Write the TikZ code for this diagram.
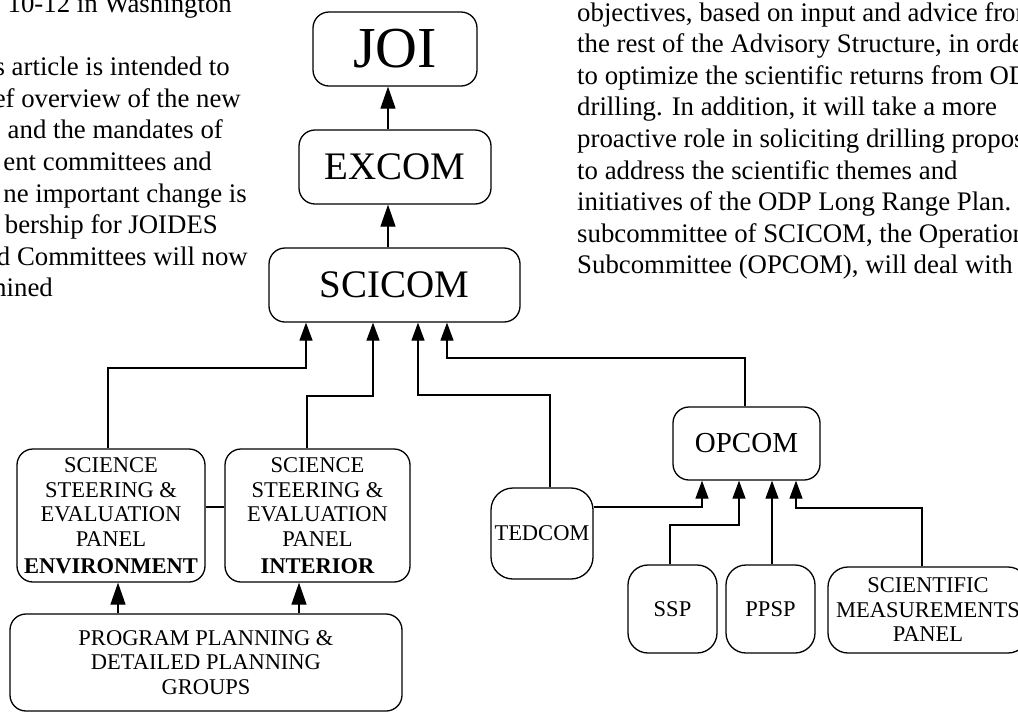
\documentclass[tikz,border=0pt]{standalone}
\usepackage{fontspec}
\setmainfont{Liberation Serif}
\usetikzlibrary{arrows.meta}
\tikzset{
  box/.style={draw, line width=1.3pt, rounded corners=16pt, inner sep=0pt, align=center,
    font=\fontsize{22.5}{24.5}\selectfont},
  conn/.style={line width=1.3pt},
  arr/.style={line width=1.3pt, -{Triangle[length=18pt,width=13pt]}},
  arrbig/.style={line width=1.3pt, -{Triangle[length=22pt,width=15pt]}},
  bodytext/.style={inner sep=0pt, font=\fontsize{26.8}{31.6}\selectfont},
}
\begin{document}
\begin{tikzpicture}[x=1pt,y=-1pt]
\useasboundingbox (0,0) rectangle (1018,713);
\fill[white] (0,0) rectangle (1018,713);
\clip (0,0) rectangle (1018,713);

% left column of body text
\node[bodytext, anchor=base east] (l0) at (232,12) {10-12 in Washington};
\node[bodytext, anchor=base east] (l2) at (230,75) {s article is intended to};
\node[bodytext, anchor=base east] (l3) at (241,107) {ef overview of the new};
\node[bodytext, anchor=base east] (l4) at (223,138) {and the mandates of};
\node[bodytext, anchor=base east] (l5) at (212,170) {ent committees and};
\node[bodytext, anchor=base east] (l6) at (247,202) {ne important change is};
\node[bodytext, anchor=base east] (l7) at (218,233) {bership for JOIDES};
\node[bodytext, anchor=base east] (l8) at (248,265) {d Committees will now};
\node[bodytext, anchor=base east] (l9) at (53,296) {mined};

% right column of body text
\node[bodytext, anchor=base west] (r0) at (577,21) {objectives, based on input and advice from};
\node[bodytext, anchor=base west] (r1) at (577,52.6) {the rest of the Advisory Structure, in order};
\node[bodytext, anchor=base west] (r2) at (577,84.2) {to optimize the scientific returns from ODP};
\node[bodytext, anchor=base west] (r3) at (577,115.8) {drilling. In addition, it will take a more};
\node[bodytext, anchor=base west] (r4) at (577,147.4) {proactive role in soliciting drilling proposals};
\node[bodytext, anchor=base west] (r5) at (577,179) {to address the scientific themes and};
\node[bodytext, anchor=base west] (r6) at (577,210.6) {initiatives of the ODP Long Range Plan.};
\node[bodytext, anchor=base west] (r7) at (577,242.2) {subcommittee of SCICOM, the Operations};
\node[bodytext, anchor=base west] (r8) at (577,273.8) {Subcommittee (OPCOM), will deal with};

% boxes
\node[box, minimum width=164pt, minimum height=74pt, font=\fontsize{58}{60}\selectfont] (joi) at (395,49) {JOI};
\node[box, minimum width=192pt, minimum height=74pt, font=\fontsize{39}{40}\selectfont] (excom) at (395,167) {EXCOM};
\node[box, minimum width=251pt, minimum height=74pt, font=\fontsize{39}{40}\selectfont] (scicom) at (394.5,285) {SCICOM};
\node[box, minimum width=188pt, minimum height=133pt] (env) at (111,515.5)
  {SCIENCE\\STEERING \&\\EVALUATION\\PANEL\\[2.5pt]\textbf{ENVIRONMENT}};
\node[box, minimum width=185pt, minimum height=133pt] (int) at (317.5,515.5)
  {SCIENCE\\STEERING \&\\EVALUATION\\PANEL\\[2.5pt]\textbf{INTERIOR}};
\node[box, minimum width=392pt, minimum height=97pt] (ppg) at (206,662.5)
  {PROGRAM PLANNING \&\\DETAILED PLANNING\\GROUPS};
\node[box, rounded corners=22pt, minimum width=102pt, minimum height=91pt] (tedcom) at (542,533.5) {TEDCOM};
\node[box, minimum width=147pt, minimum height=73pt, font=\fontsize{29}{30}\selectfont] (opcom) at (746.5,443.5) {OPCOM};
\node[box, rounded corners=20pt, minimum width=89pt, minimum height=88pt] (ssp) at (672.5,609) {SSP};
\node[box, rounded corners=20pt, minimum width=89pt, minimum height=88pt] (ppsp) at (770.5,609) {PPSP};
\node[box, rounded corners=20pt, minimum width=200pt, minimum height=86pt] (smp) at (928,610)
  {SCIENTIFIC\\MEASUREMENTS\\PANEL};

% bend points
\coordinate (k1) at (108,368);  \coordinate (k1b) at (306,368);
\coordinate (k2) at (307,396);  \coordinate (k2b) at (373,396);
\coordinate (k3) at (550,395);  \coordinate (k3b) at (418,395);
\coordinate (k4) at (745,358);  \coordinate (k4b) at (447,358);
\coordinate (k5) at (388,0);
\coordinate (k6) at (118,0);    \coordinate (k7) at (299,0);
\coordinate (k8) at (0,507);
\coordinate (k9) at (702,507);
\coordinate (k10) at (670,525); \coordinate (k10b) at (739,525);
\coordinate (k11) at (772,0);
\coordinate (k12) at (922,508); \coordinate (k12b) at (796,508);

% connectors to SCICOM
\draw[arr] (k1 |- env.north) -- (k1) -- (k1b) -- (k1b |- scicom.south);
\draw[arr] (k2 |- int.north) -- (k2) -- (k2b) -- (k2b |- scicom.south);
\draw[arr] (k3 |- tedcom.north) -- (k3) -- (k3b) -- (k3b |- scicom.south);
\draw[arr] (k4 |- opcom.north) -- (k4) -- (k4b) -- (k4b |- scicom.south);

% upward chain
\draw[arrbig] (k5 |- scicom.north) -- (k5 |- excom.south);
\draw[arrbig] (k5 |- excom.north) -- (k5 |- joi.south);

% planning groups to panels
\draw[arrbig] (k6 |- ppg.north) -- (k6 |- env.south);
\draw[arrbig] (k7 |- ppg.north) -- (k7 |- int.south);
\draw[conn] (env.east |- k8) -- (int.west |- k8);

% connectors to OPCOM
\draw[arr] (tedcom.east |- k9) -- (k9) -- (k9 |- opcom.south);
\draw[arr] (k10 |- ssp.north) -- (k10) -- (k10b) -- (k10b |- opcom.south);
\draw[arr] (k11 |- ppsp.north) -- (k11 |- opcom.south);
\draw[arr] (k12 |- smp.north) -- (k12) -- (k12b) -- (k12b |- opcom.south);
\end{tikzpicture}
\end{document}
